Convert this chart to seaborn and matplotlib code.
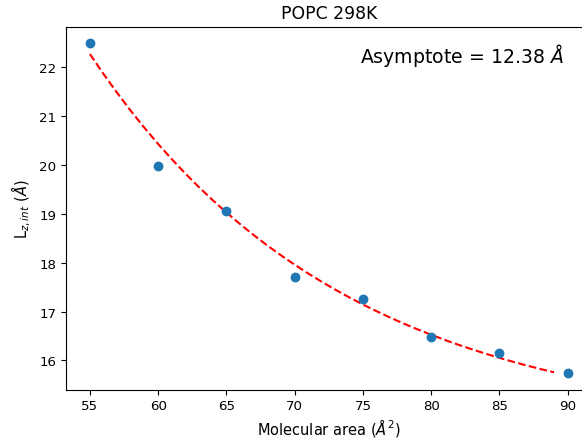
import numpy as np
import pandas as pd
import matplotlib
matplotlib.use("Agg")
import matplotlib.pyplot as plt
import seaborn as sns

# molecular area (A^2) vs L_z,int (A), POPC at 298K
area = [55, 60, 65, 70, 75, 80, 85, 90]
lz_int = [22.49, 19.97, 19.05, 17.70, 17.26, 16.48, 16.16, 15.74]
asymptote_label = "12.38"

# fitted decay curve y = offset + amp*exp(-rate*(x-55)), params
fit_offset = 14.54
fit_amp = 7.73
fit_rate = 0.0544

data = pd.DataFrame({"area": area, "lz": lz_int})

xfit = np.arange(55, 90)
fit = pd.DataFrame({"area": xfit, "lz": fit_offset + fit_amp * np.exp(-fit_rate * (xfit - 55))})

fig = plt.figure(figsize=(5.82, 4.39), dpi=100)
ax = fig.add_axes([0.1134, 0.110, 0.9031, 0.827])

sns.scatterplot(data=data, x="area", y="lz", ax=ax, color="#1f77b4", s=50, linewidth=0, zorder=3)
sns.lineplot(data=fit, x="area", y="lz", ax=ax, color="red", linestyle="--", linewidth=1.5)

ax.set_xlim(53.25, 91.75)
ax.set_ylim(15.40, 22.83)
ax.set_xticks([55, 60, 65, 70, 75, 80, 85, 90])
ax.set_yticks([16, 17, 18, 19, 20, 21, 22])
ax.tick_params(labelsize=9.6)

ax.set_title("POPC 298K", fontsize=12.4)
ax.set_xlabel(r"Molecular area ($\AA^2$)", fontsize=10.5, labelpad=2.5)
ax.set_ylabel(r"L$_{z,int}$ ($\AA$)", fontsize=10.5)
ax.text(74.8, 22.11, "Asymptote = " + asymptote_label + r" $\AA$", fontsize=13.6, va="baseline")

fig.savefig("out.png", dpi=100)
